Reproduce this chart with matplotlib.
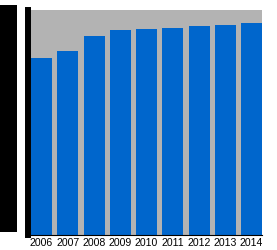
import matplotlib
matplotlib.use("Agg")
import matplotlib.pyplot as plt
from matplotlib.patches import Rectangle

years = ["2006", "2007", "2008", "2009", "2010", "2011", "2012", "2013", "2014"]
values = [78.5, 81.9, 88.6, 91.1, 91.7, 92.1, 92.9, 93.5, 94.1]

fig = plt.figure(figsize=(2.77, 2.5), dpi=100)
# heavy black mass at the left edge (overdrawn y tick area in the reference)
fig.patches.append(Rectangle((0, 18/250), 17/277, 227/250, transform=fig.transFigure,
                             facecolor="black", edgecolor="none", zorder=0))
ax = fig.add_axes([31/277, 15/250, 231/277, 225/250])
ax.set_facecolor("#b3b3b3")
x = list(range(len(years)))
ax.bar(x, values, width=0.8, color="#0066cc", zorder=2)
ax.set_xlim(-0.4, len(years) - 0.6)
ax.set_ylim(0, 100)
ax.set_xticks(x)
ax.set_xticklabels(years, fontsize=7.6, family="Liberation Sans")
ax.tick_params(axis="x", length=0, pad=2)
ax.set_yticks([])
for s in ["top", "right"]:
    ax.spines[s].set_visible(False)
ax.spines["left"].set_position(("outward", 2.2))
ax.spines["left"].set_linewidth(4.3)
ax.spines["bottom"].set_linewidth(0.8)
fig.savefig("out.png", dpi=100)
